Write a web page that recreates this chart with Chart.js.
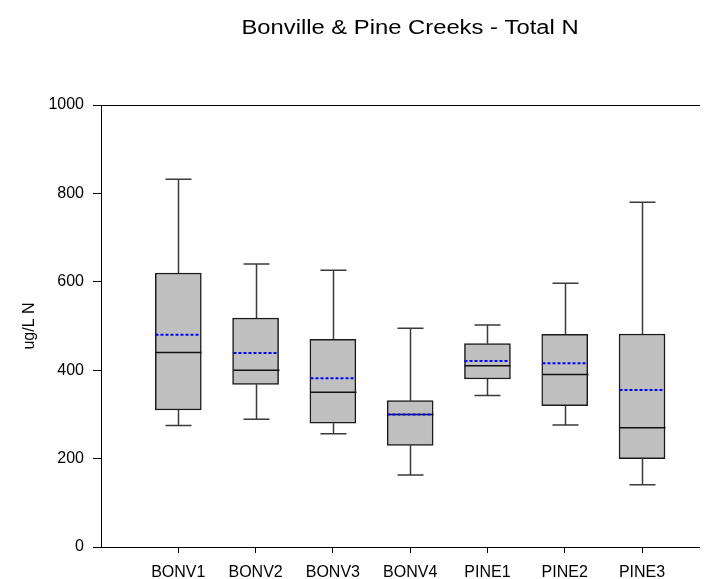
<!DOCTYPE html>
<html>
<head>
<meta charset="utf-8">
<title>Bonville &amp; Pine Creeks - Total N</title>
<script src="https://cdn.jsdelivr.net/npm/chart.js@4.4.1/dist/chart.umd.min.js"></script>
<style>
  html, body { margin: 0; padding: 0; background: #fff; }
  #wrap { width: 712px; height: 579px; position: relative; }
</style>
</head>
<body>
<div id="wrap"><canvas id="boxChart"></canvas></div>
<script>
// sampling sites and their slot on the x axis
const sites = ['BONV1', 'BONV2', 'BONV3', 'BONV4', 'PINE1', 'PINE2', 'PINE3'];
const positions = [1, 2, 3, 4, 5, 6, 7];

// total N (ug/L N) summary per site
const mins    = [275, 289, 256, 163, 343, 276, 141];
const q1s     = [310, 368, 280, 230, 380, 320, 200];
const medians = [440, 400, 350, 300, 410, 390, 270];
const q3s     = [620, 518, 470, 331, 460, 481, 482];
const maxs    = [832, 640, 626, 495, 502, 597, 780];
const means   = [480, 439, 382, 300, 421, 416, 355];

const yTicks = [0, 200, 400, 600, 800, 1000];

const FONT = "'Liberation Sans', Arial, sans-serif";

// whiskers, caps, median and mean lines on top of the floating bars
const boxExtras = {
  id: 'boxExtras',
  afterDatasetsDraw(chart) {
    const ctx = chart.ctx;
    const xs = chart.scales.x, ys = chart.scales.y;
    const half = 23, cap = 13;
    ctx.save();
    positions.forEach((p, i) => {
      const cx = Math.round(xs.getPixelForValue(p)) + 0.5;
      const yMin = ys.getPixelForValue(mins[i]);
      const yQ1 = ys.getPixelForValue(q1s[i]);
      const yQ3 = ys.getPixelForValue(q3s[i]);
      const yMax = ys.getPixelForValue(maxs[i]);

      ctx.strokeStyle = '#3a3a3a';
      ctx.lineWidth = 1.5;
      ctx.setLineDash([]);
      ctx.beginPath();
      ctx.moveTo(cx, yQ3); ctx.lineTo(cx, yMax);
      ctx.moveTo(cx - cap, yMax); ctx.lineTo(cx + cap, yMax);
      ctx.moveTo(cx, yQ1); ctx.lineTo(cx, yMin);
      ctx.moveTo(cx - cap, yMin); ctx.lineTo(cx + cap, yMin);
      ctx.stroke();

      const yMed = ys.getPixelForValue(medians[i]);
      ctx.strokeStyle = '#111';
      ctx.beginPath();
      ctx.moveTo(cx - half, yMed); ctx.lineTo(cx + half, yMed);
      ctx.stroke();

      const yMean = ys.getPixelForValue(means[i]);
      ctx.strokeStyle = '#0000ff';
      ctx.lineWidth = 2;
      ctx.setLineDash([3, 2]);
      ctx.beginPath();
      ctx.moveTo(cx - half, yMean); ctx.lineTo(cx + half - 2, yMean);
      ctx.stroke();
    });
    ctx.restore();
  }
};

// heading above the plot, drawn a little wide like the original graph
const heading = {
  id: 'heading',
  afterDraw(chart) {
    const ctx = chart.ctx;
    ctx.save();
    ctx.font = '19.5px ' + FONT;
    ctx.fillStyle = '#000';
    ctx.textAlign = 'center';
    ctx.textBaseline = 'alphabetic';
    ctx.translate(410, 34);
    ctx.scale(1.22, 1);
    ctx.fillText('Bonville & Pine Creeks - Total N', 0, 0);
    ctx.restore();
  }
};

new Chart(document.getElementById('boxChart'), {
  type: 'bar',
  data: {
    datasets: [{
      data: positions.map((p, i) => ({ x: p, y: [q1s[i], q3s[i]] })),
      backgroundColor: '#c0c0c0',
      borderColor: '#1a1a1a',
      borderWidth: 1.5,
      borderSkipped: false,
      barThickness: 46
    }]
  },
  options: {
    responsive: true,
    maintainAspectRatio: false,
    animation: false,
    devicePixelRatio: 1,
    layout: { padding: { left: 0, right: 12, top: 105, bottom: 0 } },
    plugins: {
      legend: { display: false },
      tooltip: { enabled: false },
      title: { display: false }
    },
    scales: {
      x: {
        type: 'linear',
        min: 0,
        max: 7.75,
        offset: false,
        afterBuildTicks: (scale) => { scale.ticks = positions.map(v => ({ value: v })); },
        afterFit: (scale) => { scale.height = 32; },
        border: { display: false },
        grid: { offset: false, drawOnChartArea: false, tickColor: '#000', tickLength: 6, lineWidth: 1 },
        ticks: {
          color: '#000',
          font: { family: FONT, size: 16 },
          padding: 10,
          maxRotation: 0,
          autoSkip: false,
          callback: (v) => sites[positions.indexOf(v)] || ''
        }
      },
      y: {
        min: 0,
        max: 1000,
        afterBuildTicks: (scale) => { scale.ticks = yTicks.map(v => ({ value: v })); },
        afterFit: (scale) => { scale.width = 101; },
        border: { display: true, color: '#000', width: 1 },
        grid: {
          color: (c) => (c.tick && (c.tick.value === 0 || c.tick.value === 1000)) ? '#000' : 'rgba(0,0,0,0)',
          tickColor: '#000',
          tickLength: 8,
          lineWidth: 1
        },
        ticks: {
          color: '#000',
          font: { family: FONT, size: 16 },
          padding: 9,
          callback: (v) => String(v)
        },
        title: {
          display: true,
          text: 'ug/L N',
          color: '#000',
          font: { family: FONT, size: 16 },
          padding: { top: 20, bottom: 0 }
        }
      }
    }
  },
  plugins: [boxExtras, heading]
});
</script>
</body>
</html>
